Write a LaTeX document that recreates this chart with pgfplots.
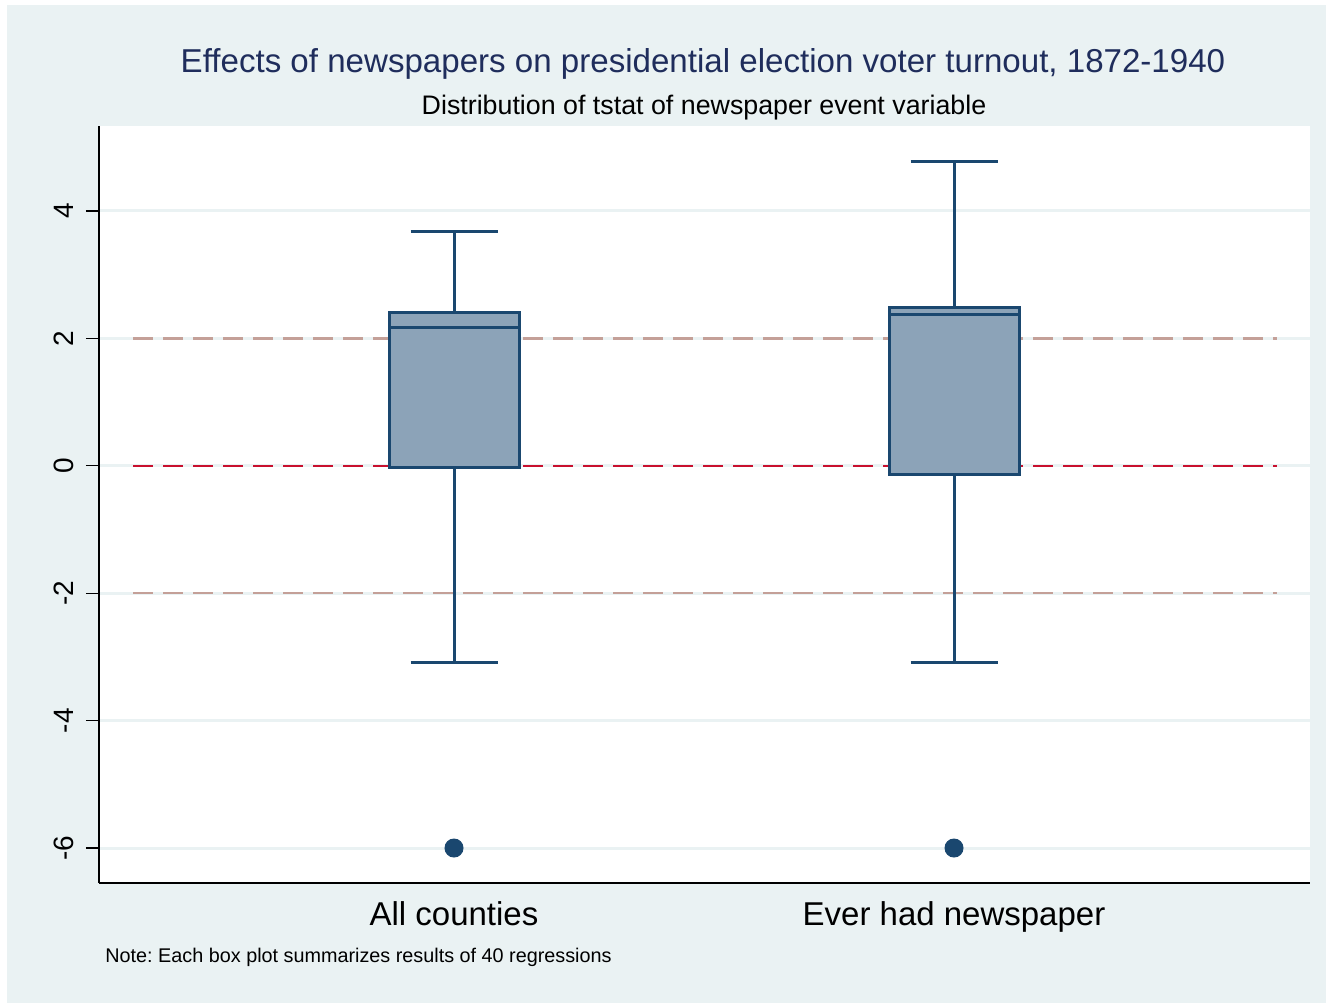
\documentclass[border=0pt]{standalone}
\usepackage{pgfplots}
\pgfplotsset{compat=1.18}
\usepgfplotslibrary{statistics}
\usepackage{fontspec}
\setmainfont{Liberation Sans}
\definecolor{bgc}{HTML}{EAF2F3}
\definecolor{navy}{HTML}{1A476F}
\definecolor{titlec}{HTML}{1F2D5C}
\definecolor{boxf}{HTML}{8CA3B8}
\definecolor{refred}{HTML}{C8102E}
\definecolor{reftan}{HTML}{C4A098}
\begin{document}
\frenchspacing
\begin{tikzpicture}[x=1pt,y=1pt]
\path[fill=white] (0,0) rectangle (663,501.5);
\fill[bgc] (3.5,0) rectangle (663,499);
\begin{axis}[
  at={(49.5pt,60pt)}, anchor=south west,
  scale only axis, width=605.5pt, height=378.5pt,
  xmin=0.29, xmax=2.712, ymin=-6.549, ymax=5.333,
  axis background/.style={fill=white},
  axis lines*=left, axis line style={-, line width=0.8pt, black},
  xtick={1,2}, xticklabels={All counties, Ever had newspaper},
  x tick style={draw=none},
  xticklabel style={font=\fontsize{16.5}{18}\selectfont, anchor=base, yshift=-14.5pt},
  ytick={-6,-4,-2,0,2,4},
  y tick style={black, line width=0.6pt},
  tick align=outside, major tick length=6.5pt,
  yticklabel style={font=\fontsize{14}{16}\selectfont, xshift=-6pt, rotate=90, anchor=south, inner sep=0pt},
  /pgf/number format/assume math mode=true,
  ymajorgrids, grid style={bgc, line width=1.5pt},
  boxplot/draw direction=y,
  clip=false,
]
\addplot[reftan, line width=1.25pt, dash pattern=on 10pt off 5pt] coordinates {(0.358,2) (2.646,2)};
\addplot[reftan, line width=1.25pt, dash pattern=on 10pt off 5pt] coordinates {(0.358,-2) (2.646,-2)};
\addplot[refred, line width=1.25pt, dash pattern=on 10pt off 5pt] coordinates {(0.358,0) (2.646,0)};
\addplot[draw=navy, fill=boxf, line width=1.5pt, mark=*, mark size=4.5pt, mark options={draw=navy, fill=navy, solid, line width=0.5pt},
  boxplot prepared={draw position=1, lower whisker=-3.09, lower quartile=-0.03, median=2.165, upper quartile=2.40, upper whisker=3.67, box extend=0.26, whisker extend=0.174}]
  table[row sep=\\, y index=0] {-6\\};
\addplot[draw=navy, fill=boxf, line width=1.5pt, mark=*, mark size=4.5pt, mark options={draw=navy, fill=navy, solid, line width=0.5pt},
  boxplot prepared={draw position=2, lower whisker=-3.09, lower quartile=-0.14, median=2.38, upper quartile=2.48, upper whisker=4.78, box extend=0.26, whisker extend=0.174}]
  table[row sep=\\, y index=0] {-6\\};
\end{axis}
\node[anchor=base, text=titlec, font=\fontsize{16.55}{19}\selectfont, inner sep=0pt] at (351.5,465) {Effects of newspapers on presidential election voter turnout, 1872-1940};
\node[anchor=base, font=\fontsize{13.4}{15}\selectfont, inner sep=0pt] at (352,444) {Distribution of tstat of newspaper event variable};
\node[anchor=base west, font=\fontsize{9.9}{12}\selectfont, inner sep=0pt] at (52.5,20.5) {Note: Each box plot summarizes results of 40 regressions};
\end{tikzpicture}
\end{document}
